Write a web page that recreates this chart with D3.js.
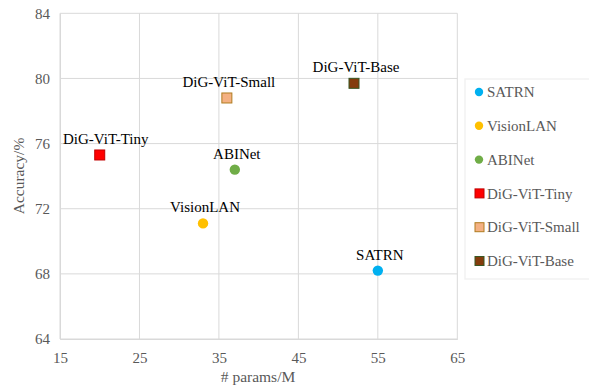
<!DOCTYPE html>
<html><head><meta charset="utf-8">
<script src="https://cdn.jsdelivr.net/npm/d3@7"></script>
<style>body{margin:0;background:#fff}</style>
</head><body>
<svg id="c" width="589" height="385"></svg>
<script>
const names = ["SATRN","VisionLAN","ABINet","DiG-ViT-Tiny","DiG-ViT-Small","DiG-ViT-Base"];
const params = [55, 33, 37, 20, 36, 52];
const accuracy = [68.2, 71.1, 74.4, 75.3, 78.8, 79.7];
const shapes = ["circle","circle","circle","square","square","square"];
const fills = ["#00b0f0","#ffc000","#70ad47","#ff0000","#f4b183","#843c0c"];
const strokes = ["none","none","none","#c00000","#b07c20","#385723"];
const xTicks = [15,25,35,45,55,65];
const yTicks = [64,68,72,76,80,84];

const svg = d3.select("#c");
const font = '"Liberation Serif"';
const x = d3.scaleLinear().domain([15,65]).range([60,457.3]);
const y = d3.scaleLinear().domain([64,84]).range([339,13.3]);

const g = svg.append("g");
g.selectAll(".vg").data(xTicks).join("line")
  .attr("x1",d=>x(d)).attr("x2",d=>x(d)).attr("y1",y(64)).attr("y2",y(84))
  .attr("stroke","#d9d9d9").attr("stroke-width",1);
g.selectAll(".hg").data(yTicks).join("line")
  .attr("x1",x(15)).attr("x2",x(65)).attr("y1",d=>y(d)).attr("y2",d=>y(d))
  .attr("stroke","#d9d9d9").attr("stroke-width",1);

const xAxis = d3.axisBottom(x).tickValues(xTicks).tickSize(0).tickPadding(10);
const yAxis = d3.axisLeft(y).tickValues(yTicks).tickSize(0).tickPadding(10);
const gx = svg.append("g").attr("transform",`translate(0,${y(64)})`).call(xAxis);
const gy = svg.append("g").attr("transform",`translate(${x(15)},0)`).call(yAxis);
[gx,gy].forEach(a=>{
  a.attr("font-family",null).attr("font-size",null);
  a.select(".domain").attr("stroke","#d9d9d9");
  a.selectAll("text").style("font-family",font).style("font-size","15px").attr("fill","#595959");
});
gx.selectAll("text").attr("dy","0.9em");

svg.append("text").attr("x",258).attr("y",382).attr("text-anchor","middle")
  .style("font-family",font).style("font-size","15.5px").attr("fill","#595959").text("# params/M");
svg.append("text").attr("transform","translate(24,176) rotate(-90)").attr("text-anchor","middle")
  .style("font-family",font).style("font-size","15.5px").attr("fill","#595959").text("Accuracy/%");

const data = names.map((n,i)=>({n, px:params[i], acc:accuracy[i], shape:shapes[i], fill:fills[i], stroke:strokes[i]}));
const pts = svg.append("g");
data.forEach(d=>{
  if(d.shape==="circle"){
    pts.append("circle").attr("cx",x(d.px)).attr("cy",y(d.acc)).attr("r",5.2).attr("fill",d.fill);
  } else {
    pts.append("rect").attr("x",x(d.px)-5).attr("y",y(d.acc)-5).attr("width",10).attr("height",10)
      .attr("fill",d.fill).attr("stroke",d.stroke).attr("stroke-width",1);
  }
  pts.append("text").attr("x",x(d.px)+ (d.n==="DiG-ViT-Tiny"?6:2)).attr("y",y(d.acc)-11)
    .attr("text-anchor","middle").style("font-family",font).style("font-size","15px").attr("fill","#000")
    .text(d.n);
});

const lg = svg.append("g");
lg.append("rect").attr("x",465).attr("y",79).attr("width",128).attr("height",200)
  .attr("fill","#fff").attr("stroke","#f2f2f2").attr("stroke-width",1.5);
const ly = d3.scalePoint().domain(names).range([92,261]);
data.forEach(d=>{
  const cy = ly(d.n);
  if(d.shape==="circle"){
    lg.append("circle").attr("cx",479).attr("cy",cy).attr("r",4.2).attr("fill",d.fill);
  } else {
    lg.append("rect").attr("x",475).attr("y",cy-4.5).attr("width",9).attr("height",9)
      .attr("fill",d.fill).attr("stroke",d.stroke).attr("stroke-width",1);
  }
  lg.append("text").attr("x",487).attr("y",cy).attr("dy","0.35em")
    .style("font-family",font).style("font-size","15px").attr("fill","#595959").text(d.n);
});
</script>
</body></html>
